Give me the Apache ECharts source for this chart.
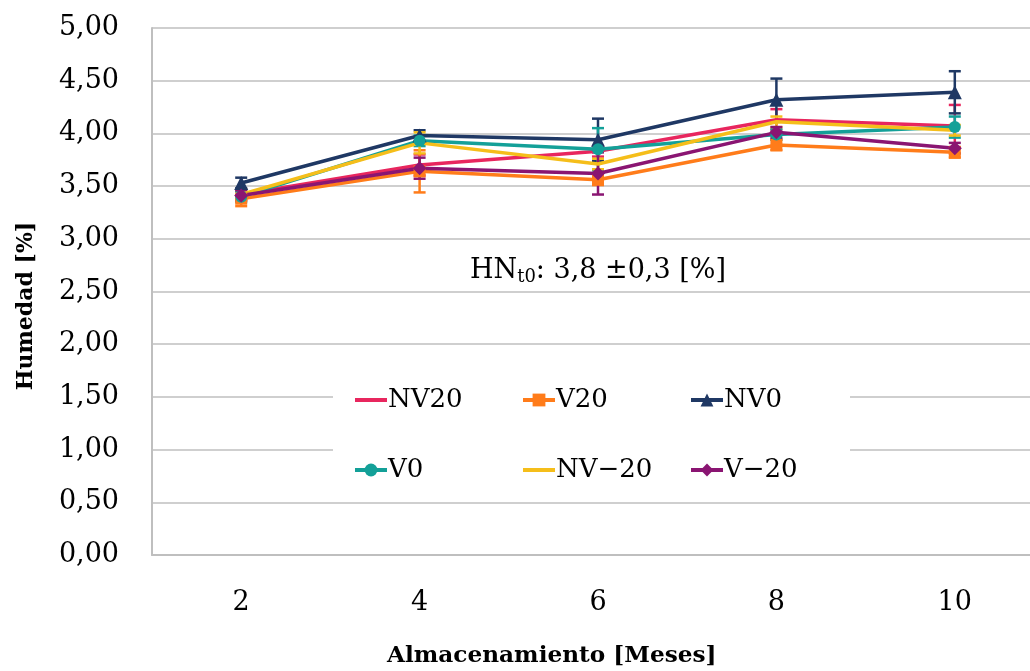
<!DOCTYPE html>
<html><head><meta charset="utf-8">
<script src="https://cdn.jsdelivr.net/npm/echarts@6/dist/echarts.min.js"></script>
<style>html,body{margin:0;padding:0;background:#fff;overflow:hidden}#c{width:1044px;height:671px}</style>
</head><body><div id="c"></div>
<script>
const categories = ['2', '4', '6', '8', '10'];
const seriesNames = ['NV20', 'V20', 'NV0', 'V0', 'NV\u221220', 'V\u221220'];
const nv20 = [3.42, 3.70, 3.83, 4.13, 4.07];
const v20 = [3.38, 3.64, 3.56, 3.89, 3.82];
const nv0 = [3.53, 3.98, 3.94, 4.32, 4.39];
const v0 = [3.40, 3.93, 3.85, 3.99, 4.06];
const nvm20 = [3.42, 3.91, 3.71, 4.11, 4.03];
const vm20 = [3.41, 3.67, 3.62, 4.01, 3.86];
const errNv20 = [0.05, 0.1, 0.05, 0.1, 0.2];
const errV20 = [0.07, 0.2, 0.05, 0.05, 0.05];
const errNv0 = [0.05, 0.05, 0.2, 0.2, 0.2];
const errV0 = [0.05, 0.05, 0.2, 0.05, 0.1];
const errNvm20 = [0.05, 0.1, 0.05, 0.05, 0.05];
const errVm20 = [0.05, 0.1, 0.2, 0.05, 0.05];

const values = [nv20, v20, nv0, v0, nvm20, vm20];
const errs = [errNv20, errV20, errNv0, errV0, errNvm20, errVm20];
const colors = ['#E8265E', '#FF7C1A', '#1F3864', '#13A098', '#F5BE1A', '#8A1572'];
const symbols = ['none', 'rect', 'triangle', 'circle', 'none', 'diamond'];
const symSizes = [0, 12, 14, 12, 0, 14];
const FONT = 'DejaVu Serif';
const lineIcon = 'path://M0,0 L32,0 L32,4 L0,4 Z';

const chart = echarts.init(document.getElementById('c'));
const series = [];
values.forEach((vals, i) => {
  series.push({
    type: 'custom', name: seriesNames[i] + '_err', silent: true, z: 3,
    data: vals.map((v, k) => [k, v, errs[i][k]]),
    renderItem: function (params, api) {
      const x = api.value(0), y = api.value(1), e = api.value(2);
      const top = api.coord([x, y + e]);
      const bot = api.coord([x, y - e]);
      const w = 6;
      const st = { stroke: colors[i], lineWidth: 2.5 };
      return { type: 'group', children: [
        { type: 'line', shape: { x1: top[0], y1: top[1], x2: bot[0], y2: bot[1] }, style: st },
        { type: 'line', shape: { x1: top[0] - w, y1: top[1], x2: top[0] + w, y2: top[1] }, style: st },
        { type: 'line', shape: { x1: bot[0] - w, y1: bot[1], x2: bot[0] + w, y2: bot[1] }, style: st }
      ]};
    }
  });
});
values.forEach((vals, i) => {
  const s = {
    type: 'line', name: seriesNames[i], data: vals, z: 4,
    lineStyle: { color: colors[i], width: 3.5 },
    itemStyle: { color: colors[i] },
    animation: false
  };
  if (symbols[i] === 'none') { s.symbol = 'none'; s.showSymbol = false; }
  else { s.symbol = symbols[i]; s.symbolSize = symSizes[i]; }
  series.push(s);
});

function legendItem(i) {
  return symbols[i] === 'none' ? { name: seriesNames[i], icon: lineIcon } : { name: seriesNames[i] };
}
const legendBase = {
  orient: 'vertical', itemWidth: 32, itemHeight: 16, itemGap: 44, z: 10,
  lineStyle: { width: 4 },
  textStyle: { fontFamily: FONT, fontSize: 26, color: '#000', padding: [0, 0, 0, -4] },
  selectedMode: false
};
chart.setOption({
  animation: false,
  grid: { left: 152, right: 0, top: 28, bottom: 116 },
  xAxis: {
    type: 'category', data: categories, boundaryGap: true,
    axisLine: { show: true, lineStyle: { color: '#BFBFBF', width: 2 } },
    axisTick: { show: false },
    axisLabel: { fontFamily: FONT, fontSize: 27, color: '#000', margin: 34 }
  },
  yAxis: {
    type: 'value', min: 0, max: 5, interval: 0.5,
    axisLine: { show: true, lineStyle: { color: '#BFBFBF', width: 2 } },
    axisTick: { show: false },
    splitLine: { lineStyle: { color: '#BFBFBF', width: 1.5 } },
    axisLabel: { fontFamily: FONT, fontSize: 27, color: '#000', margin: 33,
      formatter: v => v.toFixed(2).replace('.', ',') }
  },
  legend: [
    Object.assign({}, legendBase, { left: 348, top: 382, data: [legendItem(0), legendItem(3)] }),
    Object.assign({}, legendBase, { left: 516, top: 382, data: [legendItem(1), legendItem(4)] }),
    Object.assign({}, legendBase, { left: 684, top: 382, data: [legendItem(2), legendItem(5)] })
  ],
  graphic: [
    { type: 'rect', z: 5, shape: { x: 333, y: 360, width: 517, height: 128 }, style: { fill: '#fff' } },
    { type: 'text', z: 6, left: 470, top: 257,
      style: { rich: {
          a: { fontFamily: FONT, fontSize: 27, fill: '#000' },
          s: { fontFamily: FONT, fontSize: 18, fill: '#000', padding: [14, 0, 0, 0] }
        },
        text: '{a|HN}{s|t0}{a|: 3,8 \u00b10,3 [%]}' } },
    { type: 'text', z: 6, top: 644, left: 387,
      style: { text: 'Almacenamiento [Meses]', fontFamily: FONT, fontSize: 23.2, fontWeight: 'bold', fill: '#000' } },
    { type: 'text', z: 6, x: 26, y: 306, rotation: Math.PI / 2,
      style: { text: 'Humedad [%]', fontFamily: FONT, fontSize: 22, fontWeight: 'bold', fill: '#000',
        align: 'center', verticalAlign: 'middle' } }
  ],
  series: series
});
</script></body></html>
